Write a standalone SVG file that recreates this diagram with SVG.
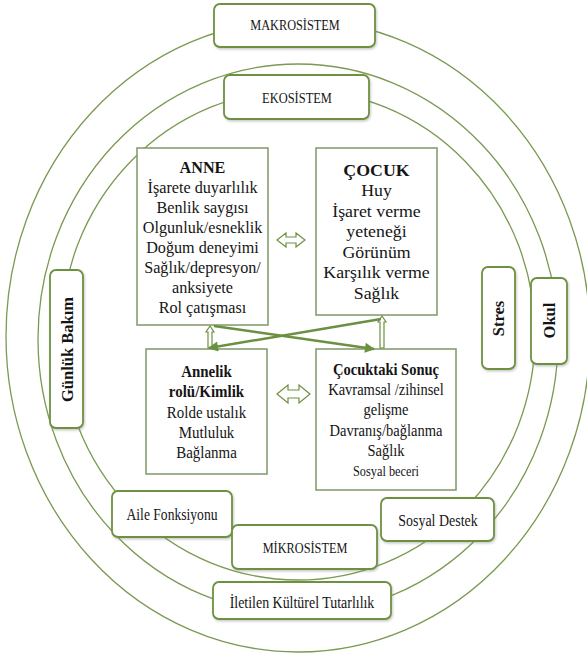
<svg xmlns="http://www.w3.org/2000/svg" width="587" height="655" viewBox="0 0 587 655" font-family="'Liberation Serif', 'Times New Roman', serif">
<style>
.ring{fill:none;stroke:#7a9a52;stroke-width:1.3}
.rbox{fill:#fff;stroke:#6e9140;stroke-width:1.8;filter:url(#sh)}
.mbox{fill:#fff;stroke:#7f9868;stroke-width:1.5}
text{fill:#151515;text-anchor:middle}
.t{font-size:16.5px}
.b{font-size:16.5px;font-weight:bold}
.t2{font-size:17px}
.b2{font-size:17px;font-weight:bold}
.s{font-size:15px}
.s2{font-size:14px}
.l{font-size:17px}
.rot{font-size:16.5px;font-weight:bold}
.harrow{fill:#fff;stroke:#6e9140;stroke-width:1.2}
.diag{stroke:#6a9040;stroke-width:2.5;fill:none;marker-end:url(#ah)}
</style>
<defs>
<filter id="sh" x="-10%" y="-10%" width="130%" height="130%">
<feDropShadow dx="1" dy="1.5" stdDeviation="1" flood-color="#888" flood-opacity="0.45"/>
</filter>
<marker id="ah" viewBox="0 0 10 10" refX="9" refY="5" markerWidth="12" markerHeight="10" markerUnits="userSpaceOnUse" orient="auto">
<path d="M0,0 L10,5 L0,10 Z" fill="#6a9040"/>
</marker>
</defs>
<rect width="587" height="655" fill="#fff"/>
<g id="rings">
<ellipse class="ring" cx="298" cy="336" rx="292" ry="316"/>
<ellipse class="ring" cx="298" cy="339" rx="260" ry="275"/>
<ellipse class="ring" cx="298" cy="335" rx="237" ry="245"/>
</g>
<g id="makrosistem"><rect class="rbox" x="214" y="4" width="161" height="43" rx="6"/><text class="s" transform="translate(295 30) scale(0.82 1)">MAKROSİSTEM</text></g>
<g id="ekosistem"><rect class="rbox" x="224" y="75" width="145" height="44" rx="6"/><text class="s" transform="translate(297 103) scale(0.83 1)">EKOSİSTEM</text></g>
<g id="gunluk-bakim"><rect class="rbox" x="50" y="270" width="33" height="158" rx="6"/><text class="rot" transform="translate(72.5 349.5) rotate(-90)">Günlük Bakım</text></g>
<g id="stres"><rect class="rbox" x="482" y="267" width="33" height="102" rx="6"/><text class="rot" transform="translate(504 318.5) rotate(-90)">Stres</text></g>
<g id="okul"><rect class="rbox" x="531" y="278" width="36" height="86" rx="6"/><text class="rot" transform="translate(554.5 320.5) rotate(-90)">Okul</text></g>
<g id="aile"><rect class="rbox" x="112" y="491" width="120" height="46" rx="6"/><text class="l" transform="translate(172 520) scale(0.8 1)">Aile Fonksiyonu</text></g>
<g id="mikrosistem"><rect class="rbox" x="232" y="525" width="145" height="44" rx="6"/><text class="s" transform="translate(305 552.5) scale(0.82 1)">MİKROSİSTEM</text></g>
<g id="sosyal-destek"><rect class="rbox" x="381" y="498" width="113" height="43" rx="6"/><text class="l" transform="translate(438 526) scale(0.82 1)">Sosyal Destek</text></g>
<g id="iletilen"><rect class="rbox" x="213" y="582" width="178" height="37" rx="6"/><text class="l" transform="translate(302 607.5) scale(0.82 1)">İletilen Kültürel Tutarlılık</text></g>
<g id="anne"><rect class="mbox" x="137" y="148" width="131" height="177"/>
<g transform="translate(202.5 0) scale(0.98 1)">
<text class="b" x="0" y="173">ANNE</text>
<text class="t" x="0" y="193">İşarete duyarlılık</text>
<text class="t" x="0" y="213">Benlik saygısı</text>
<text class="t" x="0" y="233">Olgunluk/esneklik</text>
<text class="t" x="0" y="253">Doğum deneyimi</text>
<text class="t" x="0" y="273">Sağlık/depresyon/</text>
<text class="t" x="0" y="293">anksiyete</text>
<text class="t" x="0" y="313">Rol çatışması</text></g></g>
<g id="cocuk"><rect class="mbox" x="316" y="148" width="121" height="167"/>
<g transform="translate(376.5 0) scale(1.08 1)">
<text class="b" x="0" y="176">ÇOCUK</text>
<text class="t" x="0" y="196.5">Huy</text>
<text class="t" x="0" y="217">İşaret verme</text>
<text class="t" x="0" y="237.5">yeteneği</text>
<text class="t" x="0" y="258">Görünüm</text>
<text class="t" x="0" y="278.5">Karşılık verme</text>
<text class="t" x="0" y="299">Sağlık</text></g></g>
<g id="annelik"><rect class="mbox" x="146" y="349" width="121" height="125"/>
<g transform="translate(206.5 0) scale(0.88 1)">
<text class="b2" x="0" y="377">Annelik</text>
<text class="b2" x="0" y="397">rolü/Kimlik</text>
<text class="t2" x="0" y="418">Rolde ustalık</text>
<text class="t2" x="0" y="438">Mutluluk</text>
<text class="t2" x="0" y="458">Bağlanma</text></g></g>
<g id="cocuktaki-sonuc"><rect class="mbox" x="316" y="349" width="140" height="141"/>
<g transform="translate(386 0) scale(0.88 1)">
<text class="b" x="0" y="375">Çocuktaki Sonuç</text>
<text class="t" x="0" y="395">Kavramsal /zihinsel</text>
<text class="t" x="0" y="415">gelişme</text>
<text class="t" x="0" y="436">Davranış/bağlanma</text>
<text class="t" x="0" y="456">Sağlık</text>
<text class="s2" x="0" y="476">Sosyal beceri</text></g></g>
<g id="connectors">
<path class="harrow" d="M277,240 L286,233 L286,237 L296,237 L296,233 L305,240 L296,247 L296,243 L286,243 L286,247 Z"/>
<path class="harrow" d="M277,394 L288,385 L288,390 L299,390 L299,385 L310,394 L299,403 L299,398 L288,398 L288,403 Z"/>
<path class="harrow" d="M382,316 L386,322 L384,322 L384,348 L380,348 L380,322 L378,322 Z"/>
<path class="harrow" d="M210,326 L214,332 L212,332 L212,348 L208,348 L208,332 L206,332 Z"/>
<line class="diag" x1="214" y1="326" x2="374" y2="349"/>
<line class="diag" x1="381" y1="319" x2="209" y2="348"/>
</g>
</svg>
